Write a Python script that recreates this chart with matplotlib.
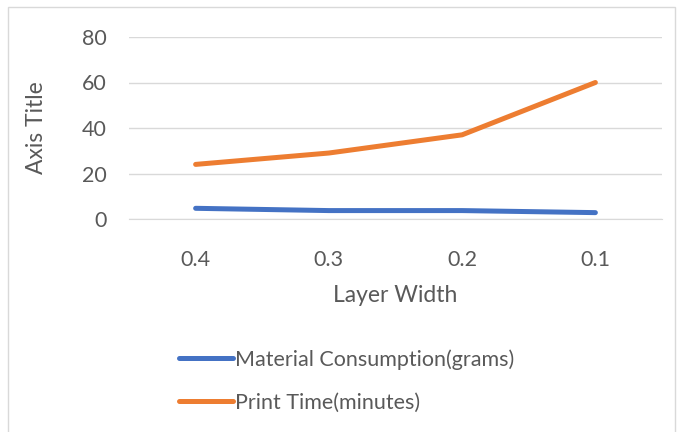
import matplotlib.pyplot as plt
from matplotlib.patches import Rectangle

# data
categories = ['0.4', '0.3', '0.2', '0.1']
material = [4.7, 3.7, 3.7, 2.8]
print_time = [24, 29, 37, 60]
yticks = [0, 20, 40, 60, 80]

plt.rcParams['font.family'] = ['Lato', 'DejaVu Sans']
grey = '#595959'

fig = plt.figure(figsize=(6.83, 4.32), dpi=100)
ax = fig.add_axes([129 / 683, 1 - 219 / 432, 533 / 683, 182 / 432])

x = list(range(len(categories)))
ax.plot(x, material, color='#4472C4', lw=3.6, solid_capstyle='round',
        label='Material Consumption(grams)')
ax.plot(x, print_time, color='#ED7D31', lw=3.6, solid_capstyle='round',
        label='Print Time(minutes)')

ax.set_xlim(-0.5, len(categories) - 0.5)
ax.set_ylim(0, 80)
ax.set_yticks(yticks)
ax.set_xticks(x)
ax.set_xticklabels(categories)
ax.grid(axis='y', color='#D9D9D9', lw=1)
ax.set_axisbelow(True)
for s in ['top', 'right', 'left']:
    ax.spines[s].set_visible(False)
ax.spines['bottom'].set_color('#D9D9D9')
ax.tick_params(length=0, labelsize=15.5, colors=grey)
ax.tick_params(axis='x', pad=22)
ax.tick_params(axis='y', pad=16)

ax.set_xlabel('Layer Width', fontsize=16.5, color=grey, labelpad=11)
ax.set_ylabel('Axis Title', fontsize=16.5, color=grey, labelpad=25)

leg = fig.legend(loc='upper left', bbox_to_anchor=(160 / 683, 1 - 330 / 432),
                 frameon=False, fontsize=15.5, labelcolor=grey,
                 handlelength=2.5, handletextpad=0.1, labelspacing=1.05)

# light frame around the chart
fig.patches.append(Rectangle((8 / 683, -0.05), 667 / 683, 1.05 - 7 / 432,
                             transform=fig.transFigure, fill=False,
                             edgecolor='#D9D9D9', lw=1))

fig.savefig('out.png', dpi=100)
